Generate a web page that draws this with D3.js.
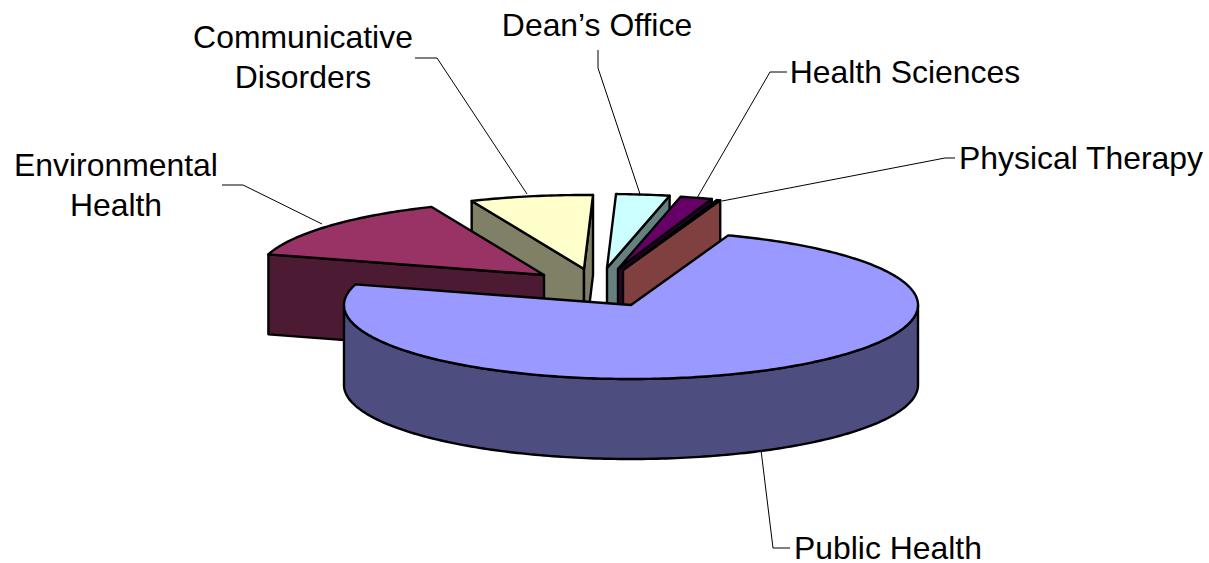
<!DOCTYPE html>
<html>
<head>
<meta charset="utf-8">
<script src="https://cdnjs.cloudflare.com/ajax/libs/d3/7.8.5/d3.min.js"></script>
<style>
    html, body { margin: 0; padding: 0; background: #fff; }
    svg { display: block; }
    .face { stroke: #000; stroke-width: 2.4; stroke-linejoin: round; }
    .leader { fill: none; stroke: #000; stroke-width: 1; }
    .label { font-family: "Liberation Sans", Arial, sans-serif; font-size: 31.9px; fill: #000; text-anchor: middle; }
</style>
</head>
<body>
<div id="chart"></div>
<script>
// data (percent of total, clockwise)
const categories = ["Public Health", "Environmental Health", "Communicative Disorders", "Dean\u2019s Office", "Health Sciences", "Physical Therapy"];
const shares = [74.0, 14.1, 6.9, 3.0, 1.8, 0.2];
const colors = ["#9999FF", "#993366", "#FFFFCC", "#CCFFFF", "#660066", "#FF8080"];

// layout, how far each slice is pulled out of the pie
const explodeX = [0, -87, -47, -24, -13, -8];
const explodeY = [0, -30, -36, -37, -36, -35];
const drawOrder = [2, 1, 3, 4, 5, 0];

const labelLines = [["Public Health"], ["Environmental", "Health"], ["Communicative", "Disorders"], ["Dean\u2019s Office"], ["Health Sciences"], ["Physical Therapy"]];
const labelPos = [[888, 559], [116, 176], [303, 48], [597, 36], [905, 83], [1081, 169]];
const leaders = [
    [[790, 548], [773, 548], [761, 450]],
    [[222, 185], [243, 185], [322, 224]],
    [[415, 58], [437, 58], [527, 194]],
    [[598, 50], [598, 68], [640, 194]],
    [[787, 72], [770, 72], [697, 198]],
    [[955, 158], [945, 158], [722, 201]]
];

const width = 1209, height = 563;
const cx = 631, cy = 305, rx = 287, ry = 74, depth = 80;

const svg = d3.select("#chart").append("svg")
    .attr("width", width)
    .attr("height", height);

const pie = d3.pie().sort(null)
    .startAngle(19.8 * Math.PI / 180)
    .endAngle((360 + 19.8) * Math.PI / 180);

const arcs = pie(shares);
const line = d3.line();

function half(c) {
    let rgb = d3.rgb(c);
    return d3.rgb(rgb.r / 2, rgb.g / 2, rgb.b / 2).formatHex();
}

// t = clockwise angle from the top of the pie
function rim(i, t, drop) {
    return [cx + explodeX[i] + rx * Math.sin(t), cy + explodeY[i] - ry * Math.cos(t) + drop];
}

function sweep(i, from, to, drop) {
    let n = Math.max(2, Math.ceil(Math.abs(to - from) * 60));
    return d3.range(n + 1).map(k => rim(i, from + (to - from) * k / n, drop));
}

function radialWall(i, t) {
    let ax = cx + explodeX[i], ay = cy + explodeY[i];
    return line([[ax, ay], rim(i, t, 0), rim(i, t, depth), [ax, ay + depth]]) + "Z";
}

let slices = svg.selectAll("g.slice")
    .data(drawOrder)
    .join("g")
    .attr("class", "slice");

slices.each(function(i){
    let g = d3.select(this);
    let a = arcs[i];
    let wallColor = half(colors[i]);

    // walls that face the viewer
    if (Math.sin(a.startAngle) < 0)
        g.append("path").attr("class", "face").attr("fill", wallColor).attr("d", radialWall(i, a.startAngle));
    if (Math.sin(a.endAngle) > 0)
        g.append("path").attr("class", "face").attr("fill", wallColor).attr("d", radialWall(i, a.endAngle));

    // outer wall, only the front half of the rim shows
    let from = Math.max(a.startAngle, Math.PI / 2), to = Math.min(a.endAngle, 3 * Math.PI / 2);
    if (to > from)
        g.append("path").attr("class", "face").attr("fill", wallColor)
            .attr("d", line(sweep(i, from, to, 0).concat(sweep(i, to, from, depth))) + "Z");

    // top face
    let top = [[cx + explodeX[i], cy + explodeY[i]]].concat(sweep(i, a.startAngle, a.endAngle, 0));
    g.append("path").attr("class", "face").attr("fill", colors[i]).attr("d", line(top) + "Z");
});

svg.selectAll("path.leader")
    .data(leaders)
    .join("path")
    .attr("class", "leader")
    .attr("d", d => line(d));

categories.forEach((name, i) => {
    svg.selectAll(null)
        .data(labelLines[i])
        .join("text")
        .attr("class", "label")
        .attr("x", labelPos[i][0])
        .attr("y", (d, k) => labelPos[i][1] + k * 40)
        .text(d => d);
});
</script>
</body>
</html>
